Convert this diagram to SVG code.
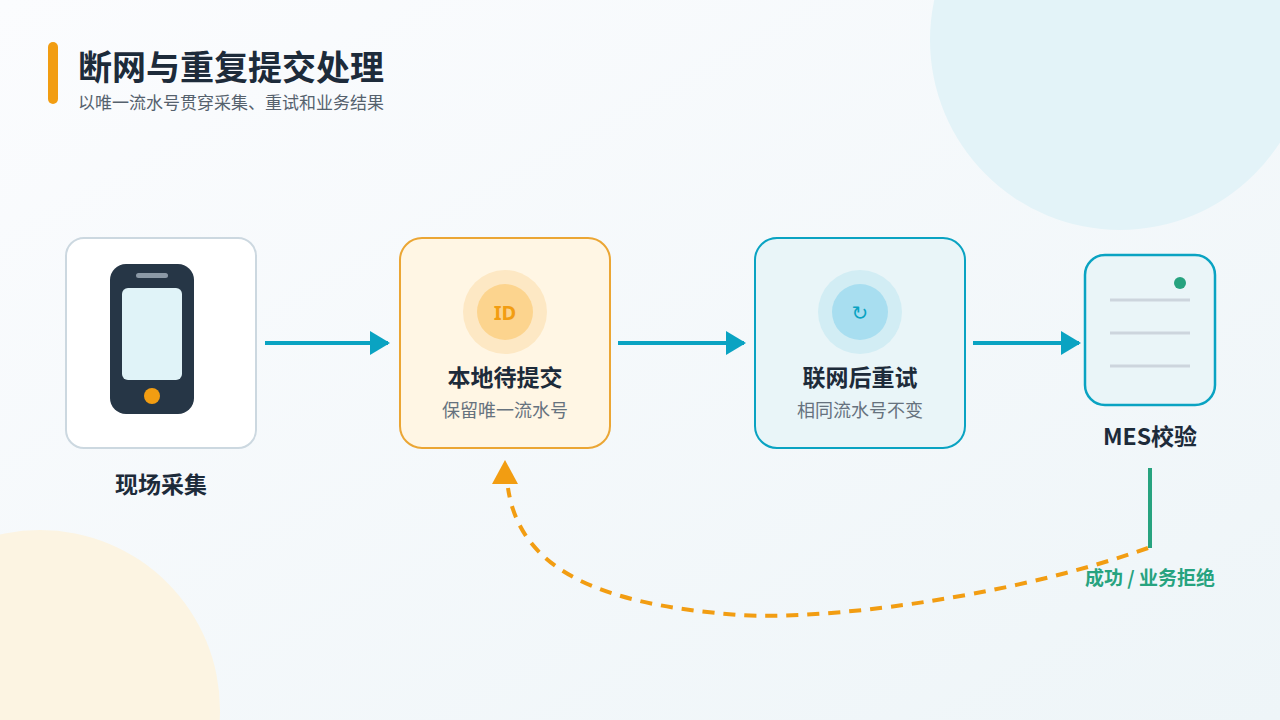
<svg xmlns="http://www.w3.org/2000/svg" width="1280" height="720" viewBox="0 0 1280 720">
<defs>
<linearGradient id="bg" x1="0" y1="0" x2="1" y2="1"><stop offset="0" stop-color="#fbfcfe"/><stop offset="1" stop-color="#eef5f8"/></linearGradient>
<marker id="ab" markerWidth="20" markerHeight="24" refX="18" refY="12" orient="auto" markerUnits="userSpaceOnUse"><path d="M0,0 L20,12 L0,24Z" fill="#0aa3c2"/></marker>
<style>
.cjk{font-family:"Noto Sans CJK SC","Noto Sans",sans-serif}
.t{font-weight:700;fill:#1d2b3a;font-size:23px}
.s{fill:#66727e;font-size:18px}
.flow{stroke:#0aa3c2;stroke-width:4;fill:none}
</style>
</defs>
<rect width="1280" height="720" fill="url(#bg)"/>
<circle cx="1120" cy="40" r="190" fill="#e3f3f8"/>
<circle cx="40" cy="710" r="180" fill="#fcf4e2"/>
<rect x="48" y="42" width="10" height="62" rx="5" fill="#f29d12"/>
<text x="78" y="80" class="cjk" font-size="34" font-weight="700" fill="#1d2b3a">断网与重复提交处理</text>
<text x="78" y="109" class="cjk" font-size="17" fill="#55616d">以唯一流水号贯穿采集、重试和业务结果</text>
<g id="connectors">
<line x1="265" y1="343" x2="388" y2="343" class="flow" marker-end="url(#ab)"/>
<line x1="618" y1="343" x2="744" y2="343" class="flow" marker-end="url(#ab)"/>
<line x1="973" y1="343" x2="1079" y2="343" class="flow" marker-end="url(#ab)"/>
<line x1="1150" y1="468" x2="1150" y2="548" stroke="#27a37f" stroke-width="4"/>
<path d="M1148,548 C1000,600 820,620 740,615 C600,605 520,570 508,488" fill="none" stroke="#f29d12" stroke-width="4" stroke-dasharray="12 9"/>
<path d="M492,484 L505,460 L518,484Z" fill="#f29d12"/>
<text x="1150" y="585" text-anchor="middle" class="cjk" font-size="19" font-weight="700" fill="#27a37f">成功 / 业务拒绝</text>
</g>
<g id="n1">
<rect x="66" y="238" width="190" height="210" rx="18" fill="#fff" stroke="#ccd8e0" stroke-width="2"/>
<rect x="110" y="264" width="84" height="150" rx="16" fill="#263646"/>
<rect x="122" y="288" width="60" height="92" rx="6" fill="#e0f3f8"/>
<rect x="136" y="273" width="32" height="5" rx="2.5" fill="#8b99a6"/>
<circle cx="152" cy="396" r="8" fill="#f29d12"/>
<text x="161" y="493" text-anchor="middle" class="cjk t">现场采集</text>
</g>
<g id="n2">
<rect x="400" y="238" width="210" height="210" rx="22" fill="#fff6e4" stroke="#eba634" stroke-width="2"/>
<circle cx="505" cy="312" r="42" fill="#fde8c4"/>
<circle cx="505" cy="312" r="28" fill="#fcd48e"/>
<text x="505" y="320" text-anchor="middle" font-family="Noto Sans,sans-serif" font-size="20" font-weight="700" fill="#f29d12">ID</text>
<text x="505" y="386" text-anchor="middle" class="cjk t">本地待提交</text>
<text x="505" y="417" text-anchor="middle" class="cjk s">保留唯一流水号</text>
</g>
<g id="n3">
<rect x="755" y="238" width="210" height="210" rx="22" fill="#e9f5f8" stroke="#0aa3c2" stroke-width="2"/>
<circle cx="860" cy="312" r="42" fill="#d2edf4"/>
<circle cx="860" cy="312" r="28" fill="#a8def0"/>
<text x="860" y="320" text-anchor="middle" font-family="DejaVu Sans,sans-serif" font-size="20" fill="#0aa3c2">↻</text>
<text x="860" y="386" text-anchor="middle" class="cjk t">联网后重试</text>
<text x="860" y="417" text-anchor="middle" class="cjk s">相同流水号不变</text>
</g>
<g id="n4">
<rect x="1085" y="255" width="130" height="150" rx="20" fill="#eaf5f8" stroke="#0aa3c2" stroke-width="2.5"/>
<circle cx="1180" cy="283" r="6" fill="#27a37f"/>
<line x1="1110" y1="300" x2="1190" y2="300" stroke="#cdd5dd" stroke-width="3"/>
<line x1="1110" y1="333" x2="1190" y2="333" stroke="#cdd5dd" stroke-width="3"/>
<line x1="1110" y1="366" x2="1190" y2="366" stroke="#cdd5dd" stroke-width="3"/>
<text x="1150" y="445" text-anchor="middle" class="cjk t">MES校验</text>
</g>
</svg>
